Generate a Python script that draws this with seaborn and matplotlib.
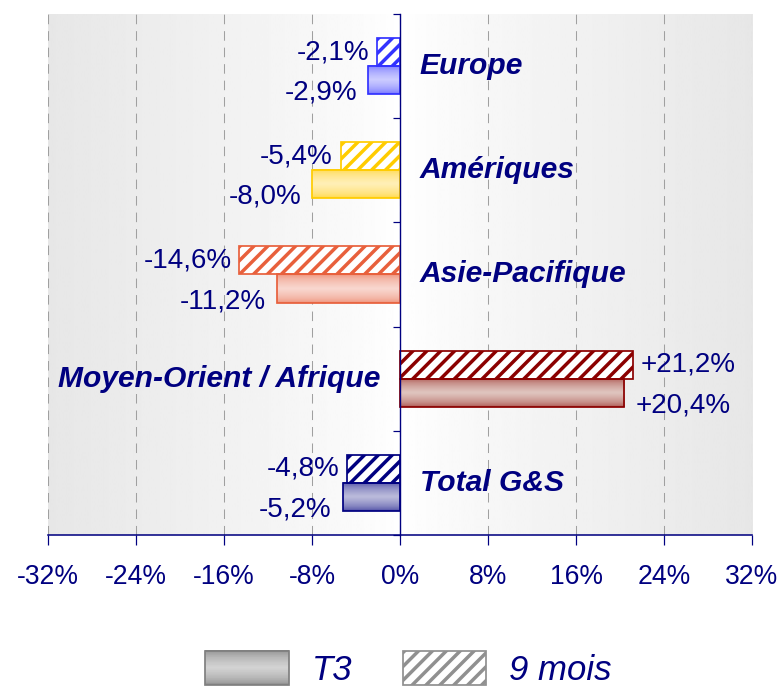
import numpy as np
import pandas as pd
import matplotlib
matplotlib.use("Agg")
import matplotlib.pyplot as plt
import matplotlib.colors as mcolors
from matplotlib.patches import Rectangle, Patch
from matplotlib.legend_handler import HandlerBase
import seaborn as sns

# data (%)
zones = ["Europe", "Amériques", "Asie-Pacifique", "Moyen-Orient / Afrique", "Total G&S"]
neuf_mois = [-2.1, -5.4, -14.6, 21.2, -4.8]
t3 = [-2.9, -8.0, -11.2, 20.4, -5.2]
periods = ["9 mois", "T3"]
xticks = [-32, -24, -16, -8, 0, 8, 16, 24, 32]

edge_colors = ["#3333ff", "#ffcc00", "#e8603c", "#8b0000", "#000080"]
face_colors = ["#9a9aff", "#ffdf70", "#f2b0a0", "#c08c80", "#7878b8"]

df = pd.DataFrame({
    "zone": zones * 2,
    "periode": ["9 mois"] * len(zones) + ["T3"] * len(zones),
    "valeur": neuf_mois + t3,
})

NAVY = "#000080"
DPI = 125

sns.set_theme(style="white")
plt.rcParams["font.family"] = ["Liberation Sans", "DejaVu Sans"]
plt.rcParams["hatch.linewidth"] = 2.0
plt.rcParams["lines.scale_dashes"] = False


def gradient_colors(face, edge, n=48):
    t = np.linspace(0, 1, n)
    k = (1 - np.abs(2 * t - 1)) ** 0.5
    fc = np.array(mcolors.to_rgb(face))
    ec = np.array(mcolors.to_rgb(edge))
    dark = fc * 0.5 + ec * 0.5
    light = fc * 0.5 + 0.5
    return dark[None, :] * (1 - k[:, None]) + light[None, :] * k[:, None]


class GradientHandler(HandlerBase):
    def create_artists(self, legend, orig_handle, xdescent, ydescent,
                       width, height, fontsize, trans):
        cols = gradient_colors("#a8a8a8", "#606060")
        n = len(cols)
        arts = []
        for k, c in enumerate(cols):
            arts.append(Rectangle((-xdescent, -ydescent + height * (n - 1 - k) / n),
                                  width, height / n + 0.3, facecolor=c,
                                  edgecolor="none", transform=trans))
        arts.append(Rectangle((-xdescent, -ydescent), width, height,
                              facecolor="none", edgecolor="#808080", lw=1.0,
                              transform=trans))
        return arts


fig = plt.figure(figsize=(778 / DPI, 688 / DPI), dpi=DPI)
ax = fig.add_axes([0.0617, 0.2224, 0.9049, 0.7573])

# background: grey at the sides, white in the middle
xs = np.linspace(-1, 1, 400)
bg = 1 - 0.095 * np.abs(xs) ** 0.8
ax.imshow(bg[np.newaxis, :], cmap="gray", vmin=0, vmax=1,
          extent=(-32, 32, 4.5, -0.5), aspect="auto", zorder=0)

sns.barplot(data=df, x="valeur", y="zone", hue="periode", order=zones,
            hue_order=periods, orient="h", width=0.54, errorbar=None,
            legend=False, ax=ax)

for cont, per in zip(ax.containers, periods):
    for bar, ec, fc in zip(cont, edge_colors, face_colors):
        bar.set_edgecolor(ec)
        bar.set_linewidth(1.0)
        bar.set_zorder(3)
        if per == "9 mois":
            bar.set_facecolor("white")
            bar.set_hatch("///")
            if hasattr(bar, "set_hatchcolor"):
                bar.set_hatchcolor(ec)
        else:
            bar.set_facecolor("none")
            x0, y0 = bar.get_x(), bar.get_y()
            w, h = bar.get_width(), bar.get_height()
            img = gradient_colors(fc, ec)[:, None, :]
            ax.imshow(img, extent=(x0, x0 + w, y0 + h, y0), aspect="auto",
                      interpolation="bilinear", zorder=2)

# value labels and zone names
for i, (z, v9, v3) in enumerate(zip(zones, neuf_mois, t3)):
    for v, dy, off in [(v9, -0.135, 0.7), (v3, 0.255, 1.0)]:
        txt = f"{v:+.1f}".replace(".", ",") + "%"
        if v < 0:
            ax.text(v - off, i + dy, txt, ha="right", va="center",
                    fontsize=16, color=NAVY, zorder=5)
        else:
            ax.text(v + off, i + dy, txt, ha="left", va="center",
                    fontsize=16, color=NAVY, zorder=5)
    if max(v9, v3) < 0:
        ax.text(1.8, i, z, ha="left", va="center", fontsize=17.3,
                fontweight="bold", fontstyle="italic", color=NAVY, zorder=5)
    else:
        ax.text(-1.8, i, z, ha="right", va="center", fontsize=17.3,
                fontweight="bold", fontstyle="italic", color=NAVY, zorder=5)

ax.set_xlim(-32, 32)
ax.set_ylim(4.5, -0.5)
ax.set_xticks(xticks)
ax.set_xticklabels([f"{t}%" for t in xticks])
ax.set_yticks(np.arange(-0.5, 5, 1))
ax.set_yticklabels([])
ax.set_xlabel("")
ax.set_ylabel("")

ax.set_axisbelow(True)
ax.xaxis.grid(True, linestyle=(0, (5.5, 4)), color="#a0a0a0", lw=0.6)
ax.yaxis.grid(False)

for s in ["top", "right"]:
    ax.spines[s].set_visible(False)
ax.spines["left"].set_position(("data", 0))
ax.spines["left"].set_color(NAVY)
ax.spines["left"].set_linewidth(0.8)
ax.spines["left"].set_zorder(4)
ax.spines["bottom"].set_color(NAVY)
ax.spines["bottom"].set_linewidth(0.9)

ax.tick_params(axis="x", direction="out", length=5.8, width=0.7, color=NAVY,
               labelsize=15.3, labelcolor=NAVY, pad=11, bottom=True)
ax.tick_params(axis="y", direction="out", length=4, width=0.7, color=NAVY,
               left=True)

t3_handle = Patch(label="T3")
nm_handle = Patch(facecolor="white", edgecolor="#909090", hatch="///",
                  label="9 mois")
leg = fig.legend(handles=[t3_handle, nm_handle], loc="center",
                 bbox_to_anchor=(0.525, 0.028), ncol=2, frameon=False,
                 handler_map={t3_handle: GradientHandler()},
                 prop={"size": 20, "style": "italic"},
                 handlelength=2.4, handleheight=1.15, handletextpad=0.66,
                 columnspacing=1.45)
for t in leg.get_texts():
    t.set_color(NAVY)

fig.savefig("out.png", dpi=DPI)
